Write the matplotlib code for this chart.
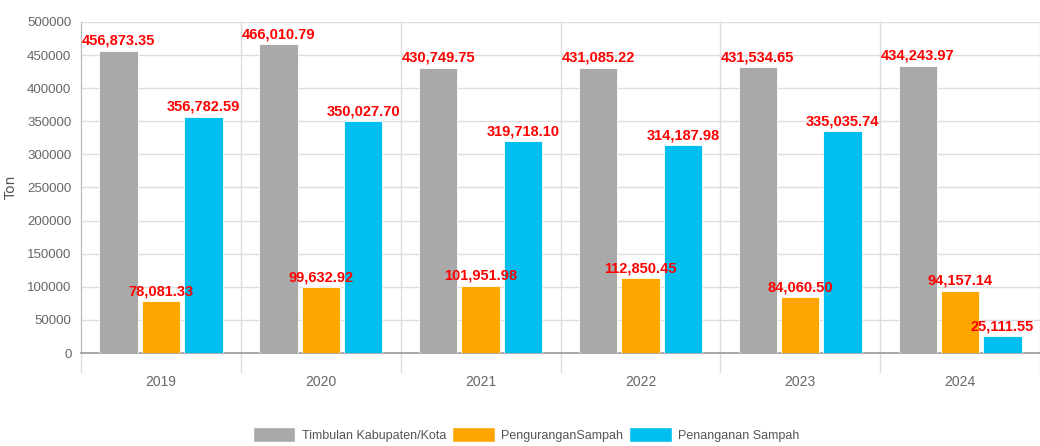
import numpy as np
import matplotlib.pyplot as plt
from matplotlib.patches import Patch

plt.rcParams['font.family'] = ['Liberation Sans', 'DejaVu Sans']

years = ['2019', '2020', '2021', '2022', '2023', '2024']
timbulan = [456873.35, 466010.79, 430749.75, 431085.22, 431534.65, 434243.97]
pengurangan = [78081.33, 99632.92, 101951.98, 112850.45, 84060.50, 94157.14]
penanganan = [356782.59, 350027.70, 319718.10, 314187.98, 335035.74, 25111.55]

series = [
    ('Timbulan Kabupaten/Kota', timbulan, '#a9a9a9'),
    ('PenguranganSampah', pengurangan, '#ffa500'),
    ('Penanganan Sampah', penanganan, '#00bfee'),
]

fig = plt.figure(figsize=(10.4, 4.46), dpi=100)
ax = fig.add_axes([0.078, 0.2085, 0.922, 0.7422])

x = np.arange(len(years))
w = 0.24
gap = 0.025
for i, (name, vals, col) in enumerate(series):
    pos = x + (i - 1) * (w + gap)
    bars = ax.bar(pos, vals, width=w, color=col, edgecolor='white', linewidth=0.6, zorder=3)
    for b, v in zip(bars, vals):
        ax.text(b.get_x() + b.get_width() / 2, v + 4500, f'{v:,.2f}',
                ha='center', va='bottom', color='#ff0000', fontsize=10.5,
                fontweight='bold', zorder=4)

ax.set_xlim(-0.5, len(years) - 0.5)
ax.set_ylim(0, 500000)
ax.set_yticks(np.arange(0, 500001, 50000))
ax.set_yticklabels([str(v) for v in range(0, 500001, 50000)])
ax.set_xticks(x)
ax.set_xticklabels(years)
ax.tick_params(axis='y', length=0, labelsize=9.5, labelcolor='#666666', pad=7)
ax.tick_params(axis='x', length=0, labelsize=10, labelcolor='#666666', pad=16)

ax.grid(axis='y', color='#dddddd', linewidth=1, zorder=0)
for s in ['top', 'right']:
    ax.spines[s].set_visible(False)
ax.spines['left'].set_color('#bbbbbb')
ax.spines['bottom'].set_color('#999999')
ax.spines['bottom'].set_linewidth(1.2)

# category separators, extending below the axis
for b in np.arange(-0.5, len(years), 1.0):
    ax.plot([b, b], [-0.057, 1], transform=ax.get_xaxis_transform(),
            color='#dddddd', linewidth=1, clip_on=False, zorder=1)

ax.set_ylabel('Ton', color='#555555', fontsize=10, family=['DejaVu Sans'])
ax.yaxis.set_label_coords(-0.066, 0.5)

handles = [Patch(facecolor=c, edgecolor='white', label=n) for n, _, c in series]
fig.legend(handles=handles, loc='lower center', bbox_to_anchor=(0.506, -0.017), ncol=3,
           frameon=False, fontsize=9, labelcolor='#555555', handlelength=3.4,
           handleheight=1.5, columnspacing=0.5, handletextpad=0.5)

fig.savefig('out.png', dpi=100)
